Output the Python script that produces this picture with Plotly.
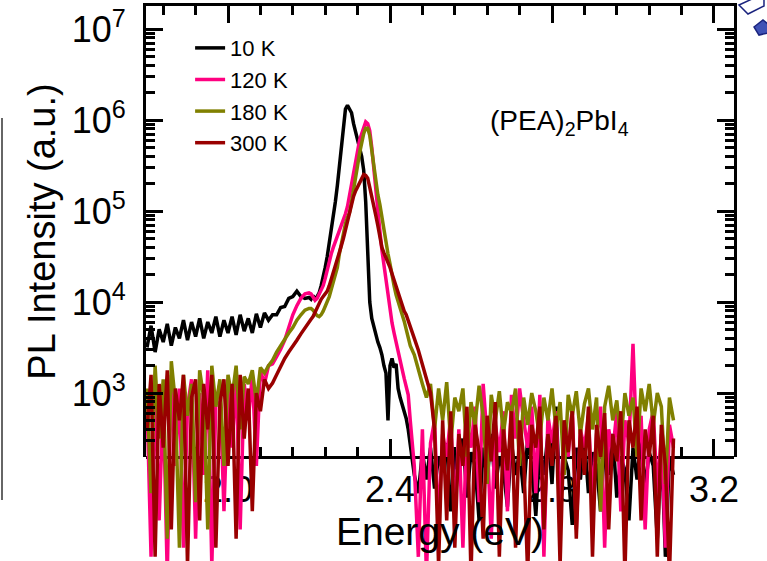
import numpy as np
import plotly.graph_objects as go

# ---- sampling grid (eV): coarse in the noisy wings, finer around the exciton peak
energy_lo = np.round(np.arange(1.80, 2.2001, 0.01), 3)    # 41 pts
energy_pk = np.round(np.arange(2.205, 2.4501, 0.005), 3)  # 50 pts
energy_hi = np.round(np.arange(2.46, 3.1001, 0.01), 3)    # 65 pts
energy = np.concatenate([energy_lo, energy_pk, energy_hi])

temps = ["10 K", "120 K", "180 K", "300 K"]
colors = ["#000000", "#FF0080", "#808000", "#990000"]

# ---- log10(PL intensity)
log_I_10K = [
    3.50, 3.74, 3.45, 3.70, 3.56, 3.76, 3.52, 3.72, 3.60, 3.80,
    3.58, 3.78, 3.62, 3.82, 3.60, 3.78, 3.66, 3.84, 3.62, 3.80,
    3.66, 3.84, 3.64, 3.86, 3.68, 3.82, 3.66, 3.87, 3.72, 3.88,
    3.80, 3.86, 3.86, 3.94, 3.95, 4.04, 4.06, 4.12, 4.06, 4.04,
    4.05,
    4.03, 4.07, 4.03, 4.06, 4.10, 4.18, 4.27, 4.38, 4.50, 4.64,
    4.82, 4.93, 5.10, 5.28, 5.48, 5.72, 5.96, 6.12, 6.16, 6.12,
    6.08, 5.96, 5.87, 5.77, 5.68, 5.60, 5.45, 5.10, 4.55, 4.00,
    3.82, 3.72, 3.64, 3.56, 3.50, 3.42, 3.30, 3.22, 2.70, 3.30,
    3.38, 3.28, 3.32, 3.05, 2.95, 2.88, 2.80, 2.72, 2.60, 2.45,
    2.10, 1.90, 2.35, 2.05, 2.40, 1.95, 2.30, 2.15, 2.45, 1.70,
    2.30, 2.10, 2.50, 1.85, 2.35, 2.20, 1.60, 2.40, 2.05, 2.55,
    1.95, 2.30, 2.15, 1.75, 2.45, 2.10, 2.35, 1.90, 2.50, 2.20,
    1.65, 2.40, 2.10, 2.55, 2.00, 2.85, 1.80, 2.30, 2.15, 1.55,
    2.40, 2.05, 2.50, 1.90, 2.35, 2.20, 1.70, 2.45, 2.10, 2.55,
    1.85, 2.30, 2.15, 1.60, 2.40, 2.05, 2.50, 1.95, 2.35, 2.20,
    1.40, 2.45, 1.20, 2.30, 2.10,
]
log_I_120K = [
    2.90, 1.20, 3.10, 1.60, 2.95, 1.00, 3.20, 2.20, 3.05, 1.30,
    2.85, 3.15, 1.40, 3.00, 2.10, 3.25, 1.10, 2.90, 3.10, 1.70,
    3.05, 2.40, 3.20, 1.50, 3.10, 2.70, 3.20, 2.20, 3.25, 3.10,
    3.30, 3.32, 3.40, 3.48, 3.58, 3.72, 3.86, 3.96, 4.04, 4.09,
    4.10,
    4.09, 4.05, 4.02, 4.04, 4.08, 4.13, 4.18, 4.26, 4.36, 4.46,
    4.53, 4.60, 4.66, 4.72, 4.79, 4.84, 4.90, 4.97, 5.05, 5.17,
    5.30, 5.43, 5.56, 5.68, 5.78, 5.85, 5.92, 5.98, 5.96, 5.88,
    5.70, 5.45, 5.25, 4.98, 4.78, 4.57, 4.40, 4.22, 4.06, 3.92,
    3.77, 3.66, 3.55, 3.45, 3.36, 3.26, 3.16, 3.06, 2.98, 2.70,
    2.20, 1.20, 2.60, 1.00, 2.45, 2.70, 1.50, 2.55, 2.30, 2.75,
    1.60, 2.60, 1.30, 2.70, 2.40, 2.85, 1.80, 3.10, 2.50, 1.40,
    2.65, 2.35, 2.80, 1.70, 2.98, 2.50, 3.05, 2.70, 2.40, 2.85,
    1.90, 2.98, 1.20, 2.75, 2.45, 2.80, 1.60, 2.65, 2.30, 2.85,
    1.50, 2.60, 2.40, 2.75, 1.80, 2.55, 2.85, 1.30, 2.60, 2.35,
    2.80, 1.70, 2.70, 2.45, 3.54, 2.30, 2.75, 1.50, 2.60, 2.80,
    1.90, 2.55, 1.30, 2.65, 2.40,
]
log_I_180K = [
    3.05, 1.90, 3.30, 2.50, 3.15, 1.40, 3.35, 2.90, 1.30, 3.20,
    2.75, 3.10, 1.80, 3.25, 2.95, 1.50, 3.30, 2.85, 3.15, 2.20,
    3.20, 2.95, 3.30, 2.60, 3.18, 3.10, 3.25, 2.90, 3.28, 3.22,
    3.30, 3.36, 3.45, 3.52, 3.60, 3.66, 3.72, 3.80, 3.86, 3.91,
    3.93,
    3.93, 3.91, 3.88, 3.85, 3.84, 3.86, 3.90, 3.95, 3.99, 4.06,
    4.14, 4.22, 4.30, 4.38, 4.53, 4.65, 4.78, 4.86, 4.93, 4.98,
    5.10, 5.22, 5.36, 5.50, 5.64, 5.76, 5.85, 5.91, 5.91, 5.83,
    5.66, 5.48, 5.32, 5.18, 5.07, 4.92, 4.77, 4.62, 4.53, 4.42,
    4.28, 4.18, 4.08, 4.01, 3.95, 3.87, 3.79, 3.70, 3.60, 3.52,
    3.42, 3.25, 3.10, 2.95, 3.10, 2.60, 3.05, 2.70, 3.12, 2.45,
    2.95, 2.80, 3.05, 2.30, 2.90, 2.65, 3.08, 2.75, 2.00, 2.98,
    2.70, 3.02, 2.55, 2.90, 2.78, 3.05, 2.20, 2.95, 2.65, 3.00,
    2.80, 2.50, 2.95, 2.70, 3.05, 2.60, 2.90, 2.10, 2.98, 2.75,
    3.02, 2.55, 2.88, 3.05, 2.60, 2.95, 1.70, 2.85, 3.08, 2.70,
    2.92, 2.45, 3.00, 2.75, 2.95, 2.30, 3.05, 2.80, 3.10, 2.65,
    3.00, 2.85, 2.00, 2.95, 2.70,
]
log_I_300K = [
    2.60, 3.20, 1.20, 3.10, 2.40, 3.25, 1.50, 3.05, 2.70, 3.20,
    1.10, 2.95, 3.15, 1.60, 3.10, 2.60, 3.20, 1.30, 2.90, 3.15,
    2.20, 3.10, 1.40, 3.20, 2.50, 3.05, 1.70, 3.00, 2.80, 3.15,
    3.05, 3.11, 3.20, 3.30, 3.38, 3.45, 3.51, 3.58, 3.65, 3.72,
    3.78,
    3.81, 3.84, 3.89, 3.95, 3.99, 4.03, 4.06, 4.09, 4.12, 4.18,
    4.25, 4.33, 4.40, 4.45, 4.53, 4.62, 4.70, 4.80, 4.90, 5.00,
    5.10, 5.16, 5.22, 5.27, 5.31, 5.36, 5.40, 5.39, 5.36, 5.26,
    5.14, 5.04, 4.95, 4.84, 4.72, 4.60, 4.54, 4.49, 4.44, 4.38,
    4.31, 4.24, 4.16, 4.08, 4.02, 3.96, 3.90, 3.86, 3.80, 3.72,
    3.60, 3.47, 3.32, 3.18, 3.00, 2.60, 1.10, 2.70, 1.60, 2.80,
    1.30, 2.55, 2.20, 2.85, 1.00, 2.65, 2.35, 1.40, 2.75, 2.25,
    2.90, 1.20, 2.60, 2.15, 2.80, 1.30, 2.70, 2.30, 1.00, 2.65,
    2.40, 2.85, 1.50, 2.55, 2.20, 2.75, 1.10, 2.70, 2.35, 2.80,
    1.40, 2.60, 2.10, 2.85, 1.20, 2.65, 2.30, 2.78, 1.50, 2.55,
    2.25, 2.80, 1.00, 2.70, 2.40, 2.85, 1.60, 2.60, 2.30, 2.75,
    1.20, 2.65, 2.20, 1.00, 2.50,
]
series = [log_I_10K, log_I_120K, log_I_180K, log_I_300K]

y_tickvals = [1e3, 1e4, 1e5, 1e6, 1e7]
y_ticktext = ["10<sup>3</sup>", "10<sup>4</sup>", "10<sup>5</sup>", "10<sup>6</sup>", "10<sup>7</sup>"]
x_tickvals = [2.0, 2.4, 2.8, 3.2]
x_ticktext = ["2.0", "2.4", "2.8", "3.2"]

# ---- geometry
W, H = 767, 561
ML, MR, MT, MB = 146, 33, 6, 0
plot_w = W - ML - MR
plot_h = H - MT - MB
x_line_px = 457
pos = (H - MB - x_line_px) / plot_h
xr = [1.7975, 3.2494]
y_data_range = [1.154, 7.253]
y_frame_range = [2.297, 7.253]


def px(xp, yp):
    """pixel position -> paper fraction (for decorations only)"""
    return (xp - ML) / plot_w, (H - MB - yp) / plot_h


def path(points):
    s = ""
    for i, (a, b) in enumerate(points):
        u, v = px(a, b)
        s += ("M" if i == 0 else "L") + f"{u:.4f},{v:.4f} "
    return s + "Z"


FONT = 'Arial, "Liberation Sans", sans-serif'

fig = go.Figure()
for name, col, logs in zip(temps, colors, series):
    n = min(len(energy), len(logs))
    fig.add_trace(go.Scatter(
        x=energy[:n], y=np.power(10.0, np.array(logs[:n])),
        mode="lines", name=name,
        line=dict(color=col, width=3.5),
        xaxis="x", yaxis="y",
    ))
# frame subplot carrier (no marks)
fig.add_trace(go.Scatter(x=[], y=[], xaxis="x2", yaxis="y2",
                         showlegend=False, hoverinfo="skip"))

tick_common = dict(ticks="inside", tickcolor="black", tickwidth=2.5,
                   showgrid=False, zeroline=False)

lx0, ly0 = px(2, 118)
lx1, ly1 = px(2, 500)

fig.update_layout(
    width=W, height=H,
    margin=dict(l=ML, r=MR, t=MT, b=MB, pad=0),
    paper_bgcolor="white", plot_bgcolor="rgba(0,0,0,0)",
    font=dict(family=FONT, color="black"),
    showlegend=True,
    xaxis=dict(
        range=xr, anchor="free", position=pos, side="bottom",
        showline=True, linecolor="black", linewidth=3,
        ticklen=17, tickvals=x_tickvals, ticktext=x_ticktext,
        tickfont=dict(size=36), ticklabelstandoff=0,
        minor=dict(ticks="inside", ticklen=9, tickwidth=2.5, tickcolor="black",
                   tick0=2.0, dtick=0.08, showgrid=False),
        layer="below traces",
        title=dict(text="Energy (eV)", font=dict(size=39), standoff=6),
        **tick_common,
    ),
    xaxis2=dict(
        range=xr, anchor="y2", side="top",
        showline=True, linecolor="black", linewidth=3,
        ticklen=17, tickvals=x_tickvals, showticklabels=False,
        minor=dict(ticks="inside", ticklen=9, tickwidth=2.5, tickcolor="black",
                   tick0=2.0, dtick=0.08, showgrid=False),
        **tick_common,
    ),
    yaxis=dict(type="log", range=y_data_range, domain=[0, 1], visible=False),
    yaxis2=dict(
        type="log", range=y_frame_range, domain=[pos, 1], anchor="x2", side="left",
        showline=True, linecolor="black", linewidth=3, mirror="allticks",
        ticklen=17, tickvals=y_tickvals, ticktext=y_ticktext,
        tickfont=dict(size=36), ticklabelstandoff=10,
        minor=dict(ticks="inside", ticklen=9, tickwidth=2.5, tickcolor="black",
                   dtick="D1", showgrid=False),
        title=dict(text="PL Intensity (a.u.)", font=dict(size=38), standoff=5),
        **tick_common,
    ),
    legend=dict(
        x=0.075, y=0.962, xanchor="left", yanchor="top",
        font=dict(size=22, family=FONT, color="black"),
        bgcolor="rgba(0,0,0,0)", borderwidth=0, tracegroupgap=0,
    ),
    annotations=[dict(
        text="(PEA)<sub>2</sub>PbI<sub>4</sub>", xref="paper", yref="paper",
        x=px(559, 0)[0], y=px(0, 123)[1],
        xanchor="center", yanchor="middle", showarrow=False,
        font=dict(size=28, family=FONT, color="black"),
    )],
    shapes=[
        dict(type="line", xref="paper", yref="paper",
             x0=lx0, x1=lx1, y0=ly0, y1=ly1,
             line=dict(color="#333333", width=1.5)),
        dict(type="path", xref="paper", yref="paper",
             path=path([(739, 5), (752, -1), (764, -1), (764, 6), (748, 14)]),
             line=dict(color="#1a237e", width=1.5), fillcolor="white"),
        dict(type="path", xref="paper", yref="paper",
             path=path([(754, 27), (763, 20), (768, 24), (768, 33), (759, 35)]),
             line=dict(color="#1a237e", width=1.5), fillcolor="#3f51b5"),
    ],
)

fig.write_html("out.html")
